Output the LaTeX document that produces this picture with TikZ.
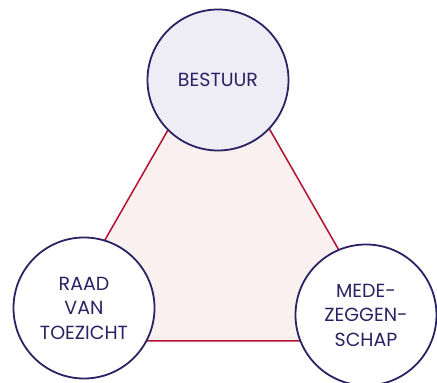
\documentclass[tikz,border=0pt]{standalone}
\usepackage{fontspec}
\setmainfont{Poppins}
\definecolor{navy}{HTML}{2A2263}
\definecolor{crimson}{HTML}{B3112E}
\definecolor{blush}{HTML}{F9F0EF}
\definecolor{lavender}{HTML}{EEEDF5}
\tikzset{
  party/.style={circle, draw=navy, line width=1.8pt, fill=white,
    minimum size=141pt, inner sep=0pt, align=center, text=navy,
    font=\fontsize{19}{24.5}\selectfont},
  relation/.style={draw=crimson, line width=1.5pt, fill=blush, line join=miter}
}
\begin{document}
\begin{tikzpicture}[x=1pt,y=1pt]
  \useasboundingbox (0,0) rectangle (437,383);
  % corners of the triangle of relations
  \coordinate (apex) at (219,342);
  \coordinate (leftc) at (47,42);
  \coordinate (rightc) at (391,42);
  \draw[relation] (apex) -- (leftc) -- (rightc) -- cycle;
  % the three parties
  \node[party, fill=lavender] (bestuur) at (218,303) {BESTUUR};
  \node[party] (rvt) at (84,75) {RAAD\\VAN\\TOEZICHT};
  \node[party] (mz) at (366,68) {MEDE-\\ZEGGEN-\\SCHAP};
\end{tikzpicture}
\end{document}
